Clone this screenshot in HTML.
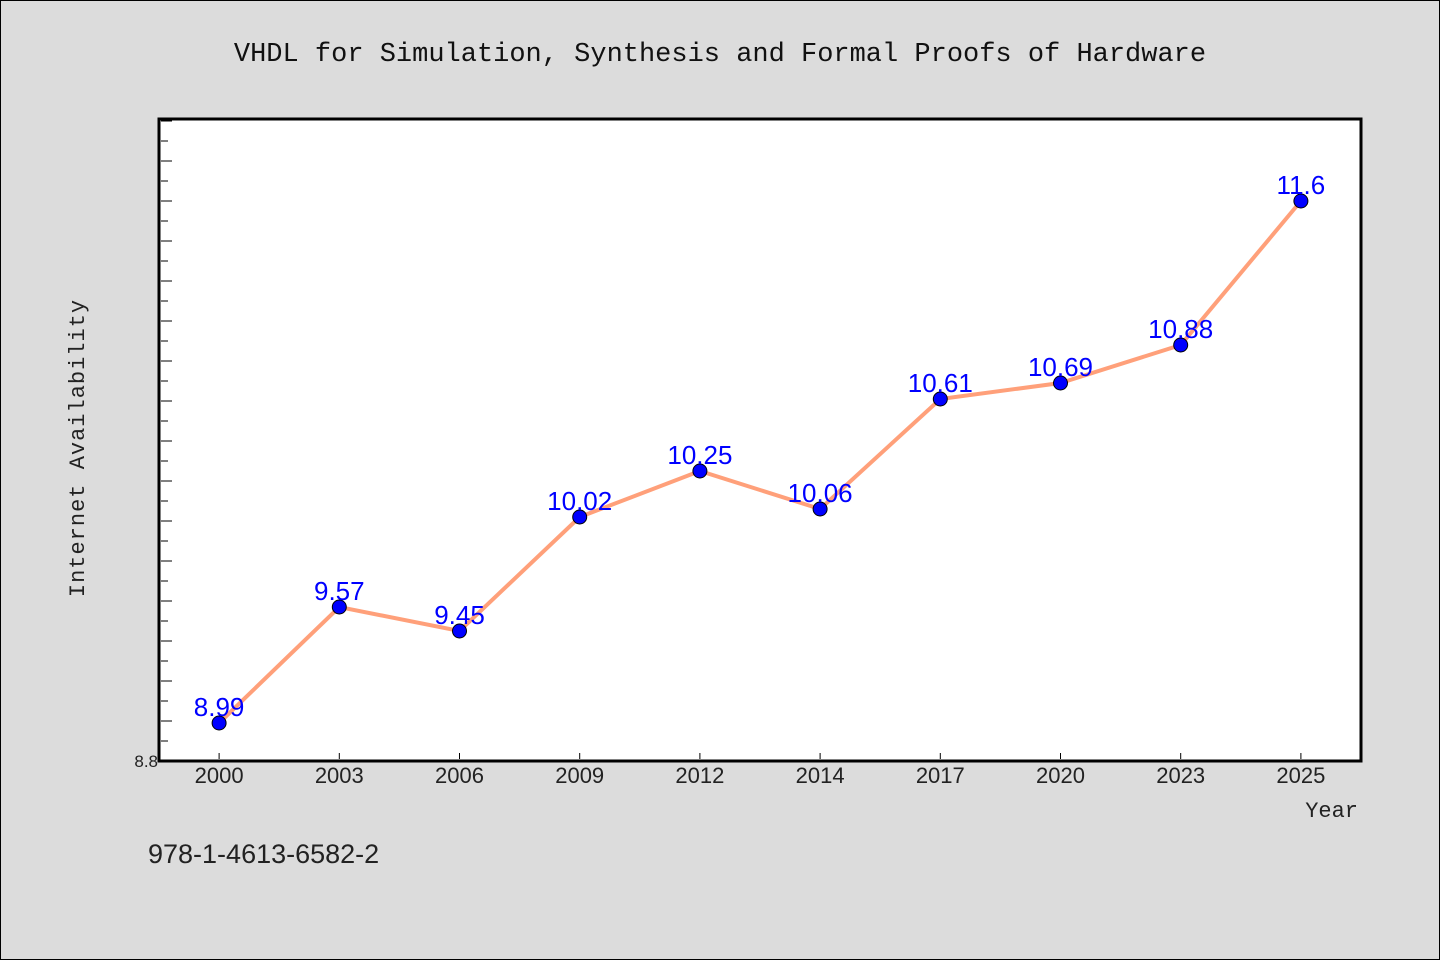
<!DOCTYPE html>
<html><head><meta charset="utf-8"><style>
body{margin:0;background:#dcdcdc;}
svg{display:block;font-family:"Liberation Sans","WenQuanYi Zen Hei",sans-serif;}
</style></head><body>
<svg id="chart" width="1440" height="960">
<rect x="0.5" y="0.5" width="1439" height="959" fill="#dcdcdc" stroke="#000"/>
<text x="720" y="61" text-anchor="middle" font-family="Liberation Mono, monospace" font-size="27" fill="#111">VHDL for Simulation, Synthesis and Formal Proofs of Hardware</text>
<rect x="159" y="119" width="1202" height="642" fill="#fff" stroke="#000" stroke-width="3"/>
<g id="yticks"></g><g id="xticks"></g><g id="series"></g>
<text x="158" y="767" text-anchor="end" font-size="17" fill="#222">8.8</text>
<text transform="translate(84,448) rotate(-90)" text-anchor="middle" font-family="Liberation Mono, monospace" font-size="22" fill="#222" letter-spacing="1">Internet Availability</text>
<text x="1358" y="817" text-anchor="end" font-family="Liberation Mono, monospace" font-size="22" fill="#222">Year</text>
<text x="148" y="863" font-size="27" fill="#222">978-1-4613-6582-2</text>
</svg>
<script>
const categories=["2000","2003","2006","2009","2012","2014","2017","2020","2023","2025"];
const values=[8.99,9.57,9.45,10.02,10.25,10.06,10.61,10.69,10.88,11.6];
const labels=["8.99","9.57","9.45","10.02","10.25","10.06","10.61","10.69","10.88","11.6"];
const yMin=8.8,yMax=12.01;
const L=159,R=1361,T=119,B=761;
const ns="http://www.w3.org/2000/svg";
const x=i=>L+(R-L)/categories.length*(i+0.5);
const y=v=>B-(v-yMin)/(yMax-yMin)*(B-T);
function mk(t,a,p){const e=document.createElementNS(ns,t);for(const k in a)e.setAttribute(k,a[k]);p.appendChild(e);return e;}
const yt=document.getElementById('yticks');
for(let k=1;;k++){const v=yMin+k*0.1;if(v>yMax)break;const len=k%2==0?11:7;
const ln=mk('line',{x1:L+2,x2:L+2+len,y1:y(v),y2:y(v),stroke:'#000','stroke-width':1},yt);

}
const xt=document.getElementById('xticks');
categories.forEach((c,i)=>{
const ln=mk('line',{x1:x(i),x2:x(i),y1:B-2,y2:B-8,stroke:'#000'},xt);


const t=mk('text',{x:x(i),y:B+22,'text-anchor':'middle','font-size':22,fill:'#222'},xt);t.textContent=c;

});
const s=document.getElementById('series');
const pl=mk('polyline',{points:values.map((v,i)=>x(i)+','+y(v)).join(' '),fill:'none',stroke:'#ffa07a','stroke-width':4},s);


values.forEach((v,i)=>{
const c=mk('circle',{cx:x(i),cy:y(v),r:7,fill:'#0000ff',stroke:'#000','stroke-width':1},s);


const t=mk('text',{x:x(i),y:y(v)-7,'text-anchor':'middle','font-size':26,fill:'#0000ff'},s);t.textContent=labels[i];

});
</script>
</body></html>
